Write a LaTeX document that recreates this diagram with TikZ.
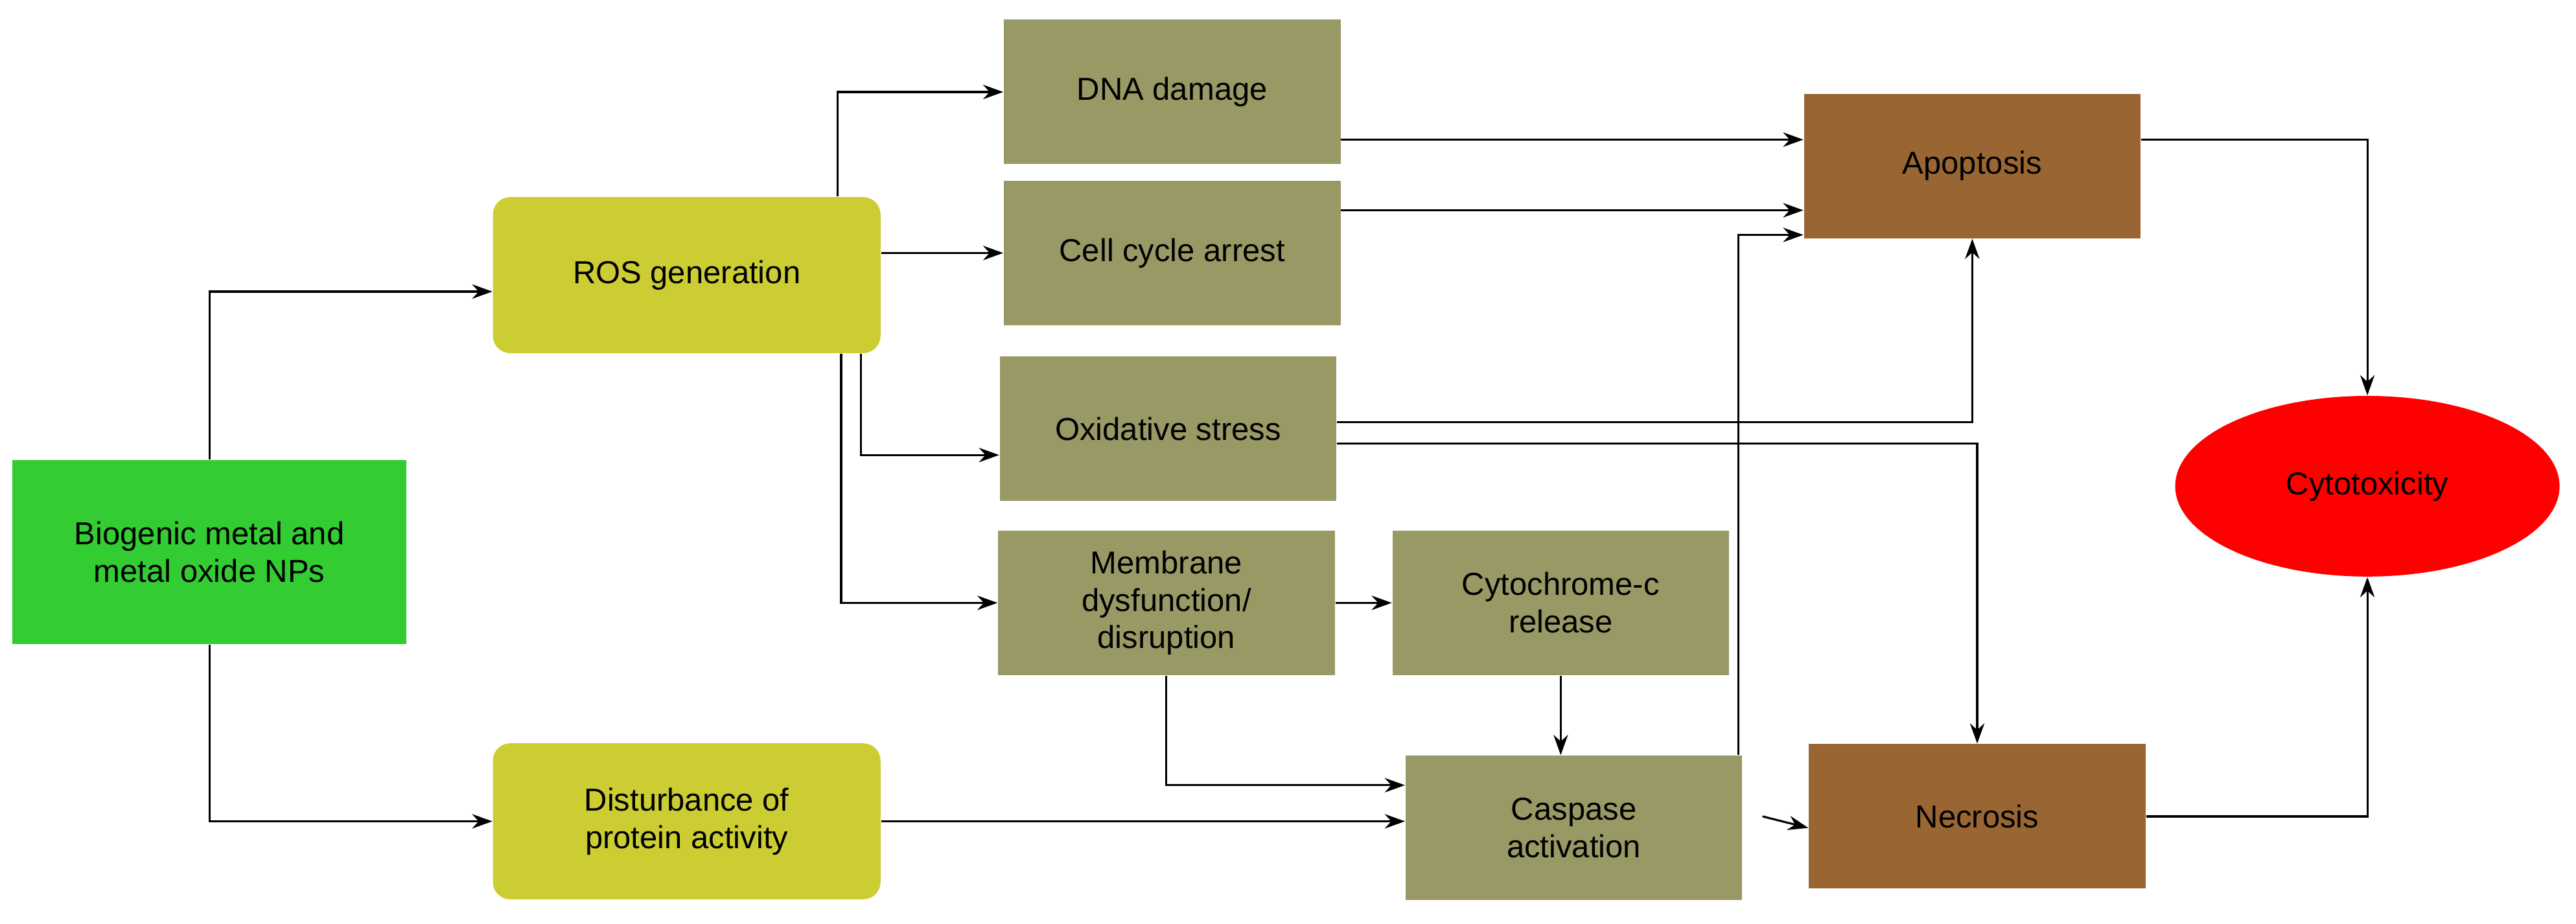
\documentclass[tikz,border=0pt]{standalone}
\usepackage{fontspec}
\setmainfont{Liberation Sans}
\usetikzlibrary{calc,arrows.meta,shapes.geometric}
\definecolor{bioGreen}{RGB}{51,204,51}
\definecolor{rosYellow}{RGB}{204,204,51}
\definecolor{effOlive}{RGB}{153,153,102}
\definecolor{fateBrown}{RGB}{153,102,51}
\tikzset{
  box/.style={minimum width=4.1cm, minimum height=1.76cm, align=center, inner sep=2pt, font=\fontsize{11}{13}\selectfont},
  bio/.style={box, fill=bioGreen, minimum width=4.8cm, minimum height=2.24cm},
  ros/.style={box, fill=rosYellow, rounded corners=6pt, minimum width=4.72cm, minimum height=1.9cm},
  eff/.style={box, fill=effOlive},
  fate/.style={box, fill=fateBrown},
  arr/.style={-{Stealth[length=7pt,width=5pt]}, line width=0.7pt},
}
\begin{document}
\begin{tikzpicture}[x=0.02cm,y=-0.02cm]
\useasboundingbox (0,0) rectangle (1568,562.5);

% sources
\node [bio] (bio) at (127.5,336) {Biogenic metal and\\ metal oxide NPs};
\node [ros] (ros) at (418,167.5) {ROS generation};
\node [ros] (dist) at (418,500) {Disturbance of\\ protein activity};

% effects
\node [eff] (dna) at (713.5,56) {DNA damage};
\node [eff] (cell) at (713.5,154) {Cell cycle arrest};
\node [eff] (oxi) at (711,261) {Oxidative stress};
\node [eff] (mem) at (710,367) {Membrane\\ dysfunction/\\ disruption};
\node [eff] (cyt) at (950,367) {Cytochrome-c\\ release};
\node [eff] (cas) at (958,504) {Caspase\\ activation};

% fates
\node [fate] (apo) at (1200.5,101) {Apoptosis};
\node [fate] (nec) at (1203.5,497) {Necrosis};
\node [ellipse, fill=red, minimum width=4.68cm, minimum height=2.2cm, font=\fontsize{11}{13}\selectfont] (cyto) at (1441,296) {Cytotoxicity};

% connectors
\draw [arr] (bio.north) |- ($(ros.west)+(0,10)$);
\draw [arr] (bio.south) |- (dist.west);
\draw [arr] ($(ros.north)+(92,0)$) |- (dna.west);
\draw [arr] (ros.east |- cell.west) -- (cell.west);
\draw [arr] ($(ros.south)+(106,0)$) |- ($(oxi.west)+(0,16)$);
\draw [arr] ($(ros.south)+(94,0)$) |- (mem.west);
\draw [arr] ($(dna.east)+(0,29)$) -- ($(apo.west)+(0,-16)$);
\draw [arr] ($(cell.east)+(0,-26)$) -- ($(apo.west)+(0,27)$);
\draw [arr] ($(oxi.east)+(0,-4)$) -| (apo.south);
\draw [arr] ($(oxi.east)+(0,9)$) -| (nec.north);
\draw [arr] (mem.east) -- (cyt.west);
\draw [arr] (cyt.south) -- (cyt.south |- cas.north);
\draw [arr] (mem.south) |- ($(cas.west)+(0,-26)$);
\draw [arr] (dist.east) -- (cas.west |- dist.east);
\draw [arr] ($(cas.north)+(100,0)$) |- ($(apo.west)+(0,42)$);
\draw [arr] ($(cas.east)+(12,-7)$) -- (cas.east -| nec.west);
\draw [arr] ($(apo.east)+(0,-16)$) -| (cyto.north);
\draw [arr] (nec.east) -| (cyto.south);
\end{tikzpicture}
\end{document}
